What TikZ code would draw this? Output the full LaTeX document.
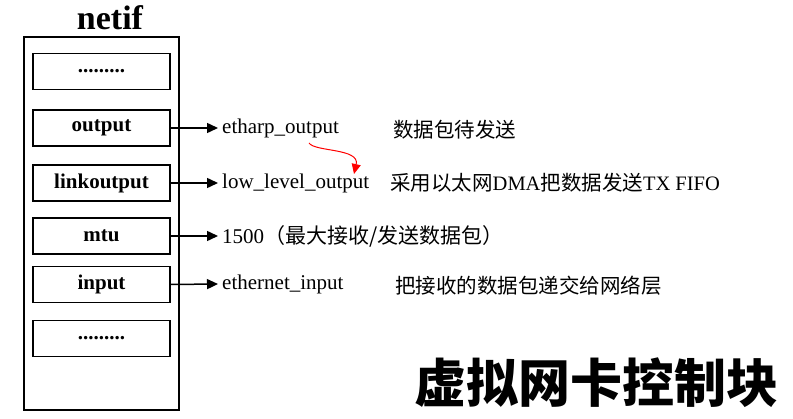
\documentclass[tikz,border=0pt]{standalone}
\usepackage{fontspec}
\setmainfont{Liberation Serif}
\newfontfamily\cjk{Noto Sans CJK SC}
\usetikzlibrary{arrows.meta}
\begin{document}
\begin{tikzpicture}[x=1pt,y=-1pt,
  fbox/.style={draw,line width=1.8pt,minimum width=137pt,minimum height=36pt,inner sep=0pt,font=\fontsize{21}{24}\selectfont\bfseries},
  lab/.style={anchor=west,inner sep=0pt,font=\fontsize{21}{24}\selectfont},
  cn/.style={anchor=west,inner sep=0pt,font=\fontsize{20.5}{24}\selectfont\cjk},
  arr/.style={-{Triangle[length=11pt,width=10pt]},line width=1.5pt}]
\useasboundingbox (0,0) rectangle (793,419);
\node[draw,line width=2pt,minimum width=155pt,minimum height=373pt,inner sep=0pt] (outer) at (101.5,223.5) {};
\node[font=\fontsize{34}{36}\selectfont\bfseries] (title) at (110,18) {netif};
\node[fbox] (b1) at (101.5,71.5) {.........};
\node[fbox] (b2) at (101.5,128) {output};
\node[fbox] (b3) at (101.5,183) {linkoutput};
\node[fbox] (b4) at (101.5,236) {mtu};
\node[fbox] (b5) at (101.5,284.5) {input};
\node[fbox] (b6) at (101.5,338.5) {.........};
\node[lab] (l2) at (222,128) {etharp\_output};
\node[lab] (l3) at (222,183) {low\_level\_output};
\node[lab] (l4) at (222,236) {1500{\cjk（最大接收/发送数据包）}};
\node[lab] (l5) at (222,284) {ethernet\_input};
\foreach \a/\b in {b2/l2,b3/l3,b4/l4,b5/l5} \draw[arr] (\a.east) -- ([xshift=-4pt]\b.west);
\node[cn] (c2) at (393,130) {数据包待发送};
\node[cn] (c3) at (390,183) {采用以太网{\rmfamily DMA}把数据发送{\rmfamily TX FIFO}};
\node[cn] (c5) at (395,286) {把接收的数据包递交给网络层};
\coordinate (r1) at (309,143);
\coordinate (r2) at (354,174);
\draw[red,line width=1pt,-{Triangle[length=10pt,width=9pt]}] (r1) .. controls (315,152) and (360,148) .. (r2);
\node[font=\fontsize{52}{56}\selectfont\cjk\bfseries] (big) at (596,383) {虚拟网卡控制块};
\end{tikzpicture}
\end{document}
